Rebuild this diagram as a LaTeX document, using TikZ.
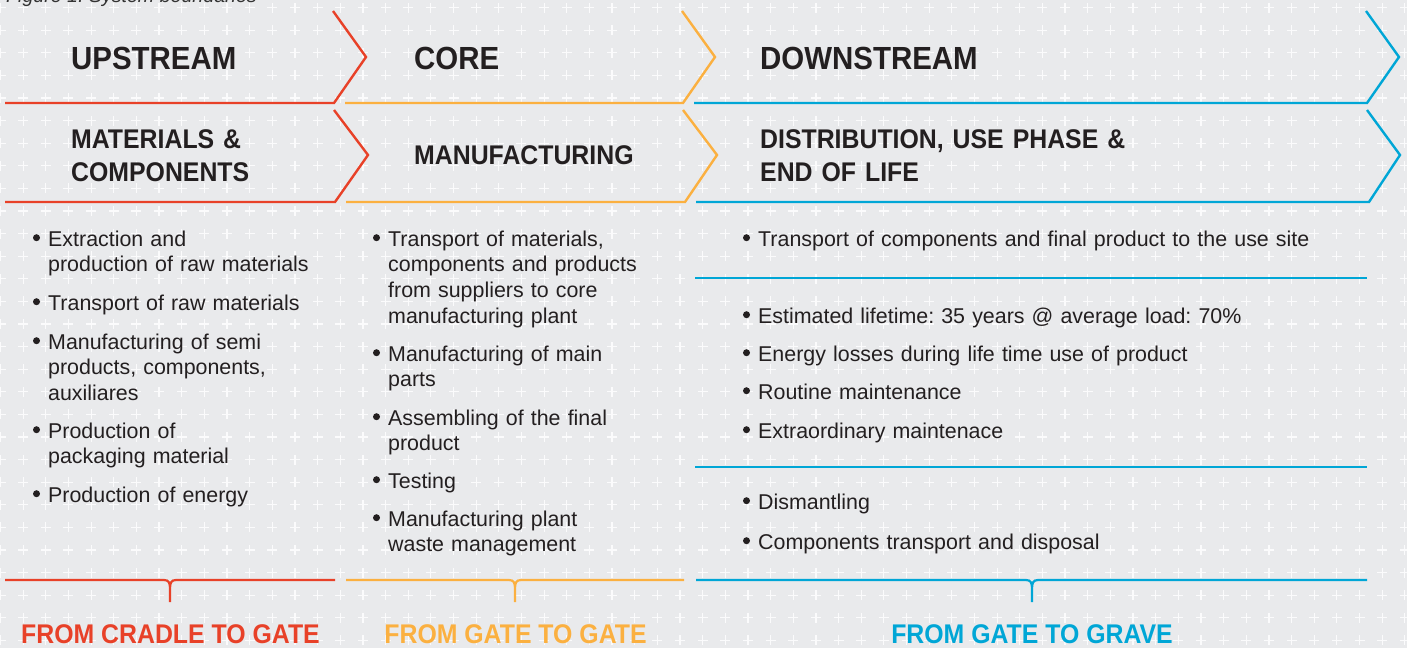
\documentclass[tikz,border=0pt]{standalone}
\usepackage{fontspec}
\setmainfont{Liberation Sans}
\newfontfamily\hdfont{Liberation Sans}[FakeStretch=0.92]
\definecolor{bgc}{HTML}{E9EAEC}
\definecolor{txt}{HTML}{231F20}
\definecolor{capc}{HTML}{333333}
\definecolor{redc}{HTML}{E84128}
\definecolor{orac}{HTML}{FBB040}
\definecolor{bluc}{HTML}{00A6D6}
\frenchspacing
\begin{document}
\frenchspacing
\begin{tikzpicture}[x=1pt,y=-1pt,
  plus/.style={draw=white,line width=1.2pt,opacity=.85},
  chev/.style={line width=2.4pt,line join=miter,line cap=butt},
  body/.style={anchor=base west,inner sep=0pt,text width=600pt,align=left,
    font=\frenchspacing\fontsize{21.4}{25.7}\selectfont,text=txt},
  headA/.style={anchor=base west,inner sep=0pt,font=\hdfont\bfseries\fontsize{32}{38}\selectfont,text=txt},
  headB/.style={anchor=base west,inner sep=0pt,text width=500pt,align=left,
    font=\hdfont\bfseries\fontsize{27}{33}\selectfont,text=txt},
  foot/.style={anchor=base,inner sep=0pt,font=\hdfont\bfseries\fontsize{27}{33}\selectfont}]
\useasboundingbox (0,0) rectangle (1407,648);
\fill[bgc] (0,0) rectangle (1407,648);
% grid of plus signs
\foreach \i in {0,...,62}{
  \foreach \j in {0,...,28}{
    \draw[plus] ({0.5+22.65*\i-5},{7.5+22.6*\j}) -- ++(10,0)
                ({0.5+22.65*\i},{7.5+22.6*\j-5}) -- ++(0,10);
  }
}
% caption
\node[anchor=base west,inner sep=0pt,font=\itshape\fontsize{19.6}{24}\selectfont,text=capc] (cap) at (6,2.5) {Figure 1: System boundaries};
% chevrons row 1
\draw[chev,redc] (5,103) -- (334,103) -- (366,57) -- (333,11);
\draw[chev,orac] (345,103) -- (683,103) -- (715,57) -- (682,11);
\draw[chev,bluc] (694,103) -- (1367,103) -- (1399,57) -- (1366,11);
% chevrons row 2
\draw[chev,redc] (5,202) -- (335,202) -- (368,155) -- (334,110);
\draw[chev,orac] (346,202) -- (685,202) -- (717,155) -- (683,110);
\draw[chev,bluc] (696,202) -- (1369,202) -- (1400,155) -- (1367,110);
% headings
\node[headA] (up) at (71,69) {UPSTREAM};
\node[headA] (core) at (414,69) {CORE};
\node[headA] (down) at (760,69) {DOWNSTREAM};
\node[headB] (mat) at (71,148) {MATERIALS \&\\COMPONENTS};
\node[headB] (man) at (414,164) {MANUFACTURING};
\node[headB] (dist) at (760,148) {DISTRIBUTION, USE PHASE \&\\END OF LIFE};
% separators downstream
\draw[chev,bluc] (695,278) -- (1367,278);
\draw[chev,bluc] (695,467) -- (1367,467);
% column 1
\node[body] (a1) at (48,246) {Extraction and\\production of raw materials};
\node[body] (a2) at (48,310) {Transport of raw materials};
\node[body] (a3) at (48,349) {Manufacturing of semi\\products, components,\\auxiliares};
\node[body] (a4) at (48,438) {Production of\\packaging material};
\node[body] (a5) at (48,502) {Production of energy};
% column 2
\node[body] (b1) at (388,246) {Transport of materials,\\components and products\\from suppliers to core\\manufacturing plant};
\node[body] (b2) at (388,361) {Manufacturing of main\\parts};
\node[body] (b3) at (388,425) {Assembling of the final\\product};
\node[body] (b4) at (388,488) {Testing};
\node[body] (b5) at (388,526) {Manufacturing plant\\waste management};
% column 3
\node[body] (c1) at (758,246) {Transport of components and final product to the use site};
\node[body] (c2) at (758,323) {Estimated lifetime: 35 years @ average load: 70\%};
\node[body] (c3) at (758,361) {Energy losses during life time use of product};
\node[body] (c4) at (758,399) {Routine maintenance};
\node[body] (c5) at (758,438) {Extraordinary maintenace};
\node[body] (c6) at (758,509) {Dismantling};
\node[body] (c7) at (758,549) {Components transport and disposal};
% bullets
\foreach \n in {a1,a2,a3,a4,a5,b1,b2,b3,b4,b5,c1,c2,c3,c4,c5,c6,c7}{
  \fill[txt] (\n.base west) ++(-11.5,-8.3) circle (3.5);
}
% brackets
\draw[chev,redc,line width=2.2pt] (5,580) -- (164,580) .. controls (169,580) and (170,583) .. (170,589) -- (170,602)
  (170,589) .. controls (170,583) and (171,580) .. (176,580) -- (335,580);
\draw[chev,orac,line width=2.2pt] (346,580) -- (509,580) .. controls (514,580) and (515,583) .. (515,589) -- (515,602)
  (515,589) .. controls (515,583) and (516,580) .. (521,580) -- (684,580);
\draw[chev,bluc,line width=2.2pt] (696,580) -- (1026,580) .. controls (1031,580) and (1032,583) .. (1032,589) -- (1032,602)
  (1032,589) .. controls (1032,583) and (1033,580) .. (1038,580) -- (1367,580);
% bottom labels
\node[foot,text=redc] (f1) at (170.5,643) {FROM CRADLE TO GATE};
\node[foot,text=orac] (f2) at (515.5,643) {FROM GATE TO GATE};
\node[foot,text=bluc] (f3) at (1032,643) {FROM GATE TO GRAVE};
\end{tikzpicture}
\end{document}
